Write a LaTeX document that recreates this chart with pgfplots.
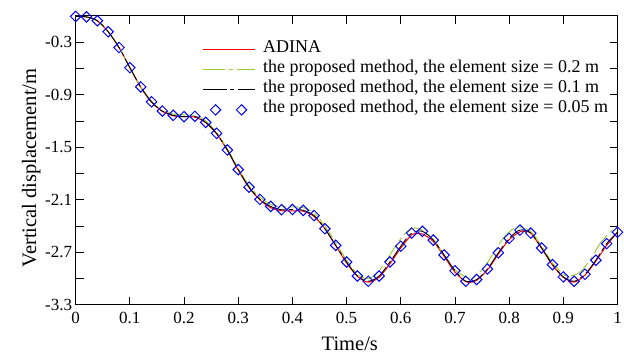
\documentclass[border=0pt]{standalone}
\usepackage{fontspec}
\setmainfont{Liberation Serif}
\usepackage{pgfplots}
\pgfplotsset{compat=1.18}
\definecolor{ygreen}{RGB}{154,205,50}
\pgfplotsset{
  legred/.style={legend image code/.code={\draw[draw=red, line width=1.1pt, solid] (0pt,0pt) -- (52pt,0pt);}},
  leggreen/.style={legend image code/.code={\draw[draw=ygreen, line width=1.1pt, dash pattern=on 22pt off 4pt on 4pt off 4pt] (0pt,0pt) -- (52pt,0pt);}},
  legblack/.style={legend image code/.code={\draw[draw=black, line width=1pt, dash pattern=on 24pt off 3.5pt on 4pt off 3.5pt] (0pt,0pt) -- (52pt,0pt);}},
  legdiam/.style={legend image code/.code={\draw[draw=blue, line width=1pt, solid] plot[only marks, mark=square, mark size=3.7pt, mark options={rotate=45}] coordinates {(13pt,0pt) (39pt,0pt)};}},
}
\begin{document}
\begin{tikzpicture}
\begin{axis}[name=ax,
  scale only axis, width=542pt, height=289pt,
  xmin=0, xmax=1, ymin=-3.3, ymax=0,
  axis line style={line width=1pt},
  tick style={line width=0.8pt, black},
  major tick length=8pt,
  tick align=inside,
  xtick={0,0.1,...,1},
  xticklabels={0,0.1,0.2,0.3,0.4,0.5,0.6,0.7,0.8,0.9,1},
  ytick={-3.3,-3.0,-2.7,-2.4,-2.1,-1.8,-1.5,-1.2,-0.9,-0.6,-0.3},
  yticklabels={-3.3,,-2.7,,-2.1,,-1.5,,-0.9,,-0.3},
  tick label style={font=\fontsize{17}{20}\selectfont},
  xticklabel style={yshift=-4pt},
  label style={font=\fontsize{20.5}{24}\selectfont},
  xlabel={Time/s}, ylabel={Vertical displacement/m},
  xlabel style={at={(axis description cs:0.506,-0.159)}, anchor=base},
  ylabel style={at={(axis description cs:-0.0732,0.474)}, anchor=base},
  clip=false,
  legend style={at={(axis cs:0.2273,-0.248)}, anchor=north west, draw=none, fill=none,
    font=\fontsize{18}{20}\selectfont, column sep=8pt,
    nodes={inner sep=0pt, text height=13pt, text depth=7pt}},
  legend cell align=left,
]
\addplot[red, line width=1pt, smooth, legred] coordinates {
(0,-0.005) (0.02,-0.012) (0.04,-0.055) (0.06,-0.18) (0.08,-0.36) (0.10,-0.59)
(0.12,-0.815) (0.14,-0.985) (0.16,-1.09) (0.18,-1.14) (0.20,-1.15) (0.22,-1.155)
(0.24,-1.22) (0.26,-1.345) (0.28,-1.535) (0.30,-1.76) (0.32,-1.96) (0.34,-2.10)
(0.36,-2.19) (0.38,-2.225) (0.40,-2.225) (0.42,-2.23) (0.44,-2.29) (0.46,-2.43)
(0.48,-2.625) (0.50,-2.82) (0.52,-2.975) (0.54,-3.04) (0.56,-2.985) (0.58,-2.83)
(0.60,-2.65) (0.62,-2.50) (0.63,-2.485) (0.64,-2.49) (0.66,-2.575) (0.68,-2.745)
(0.70,-2.925) (0.72,-3.035) (0.73,-3.04) (0.74,-3.02) (0.76,-2.90) (0.78,-2.72)
(0.80,-2.555) (0.82,-2.465) (0.83,-2.46) (0.84,-2.48) (0.86,-2.655) (0.88,-2.845)
(0.90,-2.985) (0.92,-3.04) (0.94,-2.96) (0.96,-2.80) (0.98,-2.62) (1.00,-2.47)};
\addlegendentry{ADINA}
\addplot[ygreen, line width=1pt, smooth, dash pattern=on 22pt off 4pt on 4pt off 4pt, leggreen] coordinates {
(0,-0.005) (0.02,-0.01) (0.04,-0.06) (0.06,-0.18) (0.08,-0.36) (0.10,-0.59)
(0.12,-0.81) (0.14,-0.975) (0.16,-1.075) (0.18,-1.12) (0.20,-1.13) (0.22,-1.14)
(0.24,-1.20) (0.26,-1.33) (0.28,-1.52) (0.30,-1.74) (0.32,-1.94) (0.34,-2.07)
(0.36,-2.15) (0.38,-2.18) (0.40,-2.18) (0.42,-2.19) (0.44,-2.25) (0.46,-2.40)
(0.48,-2.59) (0.50,-2.79) (0.52,-2.95) (0.535,-3.00) (0.55,-2.97) (0.57,-2.83)
(0.59,-2.63) (0.61,-2.47) (0.625,-2.42) (0.64,-2.45) (0.66,-2.55) (0.68,-2.73)
(0.70,-2.90) (0.72,-2.98) (0.73,-2.99) (0.75,-2.90) (0.77,-2.72) (0.79,-2.53)
(0.81,-2.42) (0.82,-2.41) (0.84,-2.46) (0.86,-2.63) (0.88,-2.82) (0.90,-2.95)
(0.91,-2.97) (0.93,-2.93) (0.95,-2.78) (0.97,-2.58) (0.99,-2.45) (1.00,-2.42)};
\addlegendentry{the proposed method, the element size = 0.2 m}
\addplot[black, line width=0.9pt, smooth, dash pattern=on 24pt off 3.5pt on 4pt off 3.5pt, legblack] coordinates {
(0,-0.005) (0.02,-0.01) (0.04,-0.054) (0.06,-0.18) (0.08,-0.36) (0.10,-0.59)
(0.12,-0.81) (0.14,-0.98) (0.16,-1.086) (0.18,-1.135) (0.20,-1.15) (0.22,-1.146)
(0.24,-1.215) (0.26,-1.34) (0.28,-1.53) (0.30,-1.755) (0.32,-1.955) (0.34,-2.095)
(0.36,-2.175) (0.38,-2.213) (0.40,-2.21) (0.42,-2.22) (0.44,-2.28) (0.46,-2.43)
(0.48,-2.62) (0.50,-2.81) (0.52,-2.97) (0.54,-3.03) (0.56,-2.97) (0.58,-2.81)
(0.60,-2.63) (0.62,-2.48) (0.64,-2.46) (0.66,-2.56) (0.68,-2.73) (0.70,-2.91)
(0.72,-3.03) (0.74,-3.01) (0.76,-2.89) (0.78,-2.705) (0.80,-2.54) (0.82,-2.445)
(0.84,-2.48) (0.86,-2.65) (0.88,-2.84) (0.90,-2.98) (0.92,-3.03) (0.94,-2.95)
(0.96,-2.79) (0.98,-2.60) (1.00,-2.47)};
\addlegendentry{the proposed method, the element size = 0.1 m}
\addplot[blue, only marks, mark=square, mark size=3.7pt, mark options={rotate=45, line width=1pt, solid}, legdiam] coordinates {
(0,-0.005) (0.02,-0.01) (0.04,-0.054) (0.06,-0.18) (0.08,-0.36) (0.10,-0.59)
(0.12,-0.81) (0.14,-0.98) (0.16,-1.086) (0.18,-1.135) (0.20,-1.15) (0.22,-1.146)
(0.24,-1.215) (0.26,-1.34) (0.28,-1.53) (0.30,-1.755) (0.32,-1.955) (0.34,-2.095)
(0.36,-2.175) (0.38,-2.213) (0.40,-2.21) (0.42,-2.22) (0.44,-2.28) (0.46,-2.43)
(0.48,-2.62) (0.50,-2.81) (0.52,-2.97) (0.54,-3.03) (0.56,-2.97) (0.58,-2.81)
(0.60,-2.63) (0.62,-2.48) (0.64,-2.46) (0.66,-2.56) (0.68,-2.73) (0.70,-2.91)
(0.72,-3.03) (0.74,-3.01) (0.76,-2.89) (0.78,-2.705) (0.80,-2.54) (0.82,-2.445)
(0.84,-2.48) (0.86,-2.65) (0.88,-2.84) (0.90,-2.98) (0.92,-3.03) (0.94,-2.95)
(0.96,-2.79) (0.98,-2.60) (1.00,-2.47)};
\addlegendentry{the proposed method, the element size = 0.05 m}
\end{axis}
\pgfresetboundingbox
\path ([shift={(-75.7pt,-49pt)}]ax.south west) rectangle ([shift={(6.5pt,16pt)}]ax.north east);
\end{tikzpicture}
\end{document}
